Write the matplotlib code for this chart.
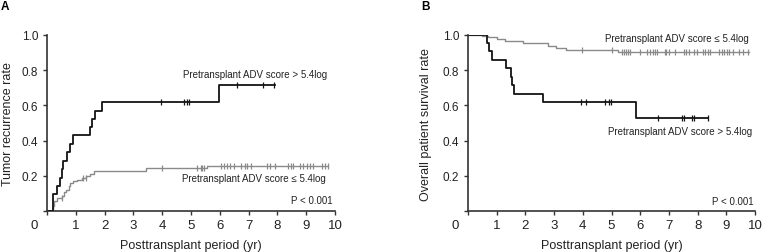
import numpy as np
import matplotlib
matplotlib.use('Agg')
import matplotlib.pyplot as plt
from matplotlib.transforms import ScaledTranslation

plt.rcParams['font.family'] = ['Liberation Sans', 'DejaVu Sans']

# Panel A: tumor recurrence (cumulative incidence), step times (yr) and levels
A_HI_T = [0.21, 0.34, 0.46, 0.52, 0.57, 0.68, 0.80, 0.90, 1.49, 1.56, 1.67, 1.90, 5.96]
A_HI_V = [0.095, 0.143, 0.190, 0.238, 0.286, 0.333, 0.381, 0.429, 0.476, 0.524, 0.571, 0.619, 0.714]
A_HI_END = 7.92
A_HI_CENS = [3.95, 4.77, 4.85, 4.94, 6.61, 7.50, 7.88]

A_LO_T = [0.20, 0.25, 0.35, 0.52, 0.58, 0.67, 0.75, 0.81, 0.90, 1.04, 1.22, 1.37, 1.50, 1.62, 3.44, 5.54]
A_LO_V = [0.030, 0.059, 0.072, 0.087, 0.106, 0.121, 0.140, 0.157, 0.168, 0.176, 0.186, 0.197, 0.210, 0.227, 0.244, 0.257]
A_LO_END = 9.77
A_LO_CENS = [0.51, 1.25, 1.35, 3.98, 5.20, 5.34, 5.39, 5.45, 6.03, 6.15, 6.24, 6.36, 6.50, 6.72, 6.88, 6.96,
             7.10, 7.63, 7.74, 7.93, 8.36, 8.46, 8.53, 8.78, 8.90, 9.02, 9.13, 9.25, 9.54, 9.65, 9.75]

# Panel B: overall patient survival
B_HI_T = [0.67, 0.72, 0.82, 1.34, 1.49, 1.55, 1.61, 2.60, 5.87]
B_HI_V = [0.952, 0.905, 0.857, 0.810, 0.762, 0.714, 0.667, 0.619, 0.531]
B_HI_END = 8.37
B_HI_CENS = [3.93, 4.10, 4.77, 4.90, 4.99, 6.61, 7.45, 7.52, 7.80, 7.88, 8.37]

B_LO_T = [0.48, 0.71, 1.00, 1.29, 1.93, 2.79, 3.06, 3.41, 5.24]
B_LO_V = [0.995, 0.987, 0.975, 0.963, 0.951, 0.938, 0.926, 0.913, 0.900]
B_LO_END = 9.80
B_LO_CENS = [3.98, 5.00, 5.35, 5.42, 5.50, 5.58, 5.66, 5.99, 6.22, 6.33, 6.43, 6.51, 6.59, 6.85, 6.90, 7.00,
             7.20, 7.54, 7.60, 7.69, 7.89, 7.97, 8.18, 8.27, 8.35, 8.43, 8.76, 8.85, 8.93, 9.01, 9.10, 9.22,
             9.45, 9.57, 9.74]

X_TICKS = list(range(0, 11))
Y_TICKS = [0, 0.2, 0.4, 0.6, 0.8, 1.0]
Y_LABELS = ['', '0.2', '0.4', '0.6', '0.8', '1.0']

BLACK = '#141414'; GRAY = '#8a8a8a'; AXC = '#333333'
W, H = 762, 253


def km(ax, t, v, start, end, cens, color, lw):
    xs = np.r_[0, t, end]; ys = np.r_[start, v, v[-1]]
    ax.step(xs, ys, where='post', color=color, lw=lw, zorder=3)
    idx = np.searchsorted(xs, cens, side='right') - 1
    ax.plot(cens, ys[idx], ls='none', marker='|', ms=4.8, mew=0.9, color=color, zorder=4)


def style(ax):
    ax.set_xlim(0, 10); ax.set_ylim(0, 1)
    for s in ['top', 'right']: ax.spines[s].set_visible(False)
    for s in ['left', 'bottom']: ax.spines[s].set_color(AXC); ax.spines[s].set_linewidth(1.2)
    ax.spines['left'].set_zorder(5)
    ax.set_xticks(X_TICKS); ax.set_xticklabels([str(x) for x in X_TICKS])
    ax.set_yticks(Y_TICKS); ax.set_yticklabels(Y_LABELS)
    ax.tick_params(axis='both', direction='out', length=3.1, width=1.0, color=AXC, labelcolor='#222222')
    ax.tick_params(axis='x', pad=2.8, labelsize=9.5); ax.tick_params(axis='y', pad=3.2, labelsize=8.5)
    ax.patch.set_alpha(0)
    lab = ax.get_xticklabels()[0]
    lab.set_transform(lab.get_transform() + ScaledTranslation(-13 / 100, 0, ax.figure.dpi_scale_trans))


fig = plt.figure(figsize=(W / 100, H / 100), dpi=100)
axA = fig.add_axes([47 / W, 1 - 212 / H, 288 / W, 176 / H])
axB = fig.add_axes([468 / W, 1 - 212.3 / H, 287 / W, 176.6 / H])

km(axA, A_LO_T, A_LO_V, 0.0, A_LO_END, A_LO_CENS, GRAY, 1.0)
km(axA, A_HI_T, A_HI_V, 0.0, A_HI_END, A_HI_CENS, BLACK, 1.3)
km(axB, B_LO_T, B_LO_V, 1.0, B_LO_END, B_LO_CENS, GRAY, 1.0)
km(axB, B_HI_T, B_HI_V, 1.0, B_HI_END, B_HI_CENS, BLACK, 1.3)
style(axA); style(axB)

tk = dict(fontsize=7.0, color='#222222', va='center')
axA.text(4.72, 0.78, 'Pretransplant ADV score > 5.4log', ha='left', **tk)
axA.text(4.68, 0.19, 'Pretransplant ADV score \u2264 5.4log', ha='left', **tk)
axA.text(9.93, 0.06, 'P < 0.001', ha='right', **tk)
axB.text(4.76, 0.98, 'Pretransplant ADV score \u2264 5.4log', ha='left', **tk)
axB.text(4.87, 0.456, 'Pretransplant ADV score > 5.4log', ha='left', **tk)
axB.text(9.96, 0.057, 'P < 0.001', ha='right', **tk)

lk = dict(fontsize=9.0, color='#222222', ha='center', va='center')
fig.text(191 / W, 1 - 246 / H, 'Posttransplant period (yr)', **lk)
fig.text(611.5 / W, 1 - 246 / H, 'Posttransplant period (yr)', **lk)
fig.text(8 / W, 1 - 124 / H, 'Tumor recurrence rate', rotation=90, **lk)
fig.text(426 / W, 1 - 124.5 / H, 'Overall patient survival rate', rotation=90, **lk)
fig.text(0.5 / W, 1 - 1.5 / H, 'A', fontsize=8.5, weight='bold', ha='left', va='top')
fig.text(421 / W, 1 - 1.5 / H, 'B', fontsize=8.5, weight='bold', ha='left', va='top')

fig.savefig('out.png', dpi=100, facecolor='white')
